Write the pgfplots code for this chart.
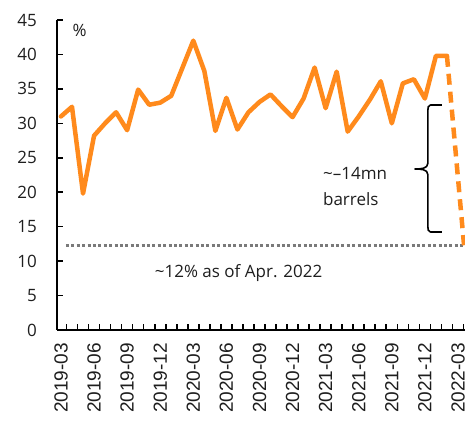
\documentclass[border=0pt]{standalone}
\usepackage{fontspec}
\setmainfont{Open Sans}
\newfontfamily\arialf{Liberation Sans}
\usepackage{pgfplots}
\pgfplotsset{compat=1.18}
\definecolor{ora}{HTML}{FF8A1C}
\definecolor{dotg}{HTML}{7A7A7A}
\definecolor{txt}{HTML}{1E1E1E}
\begin{document}
\begin{tikzpicture}
\useasboundingbox (-57pt,-92pt) rectangle (408pt,330pt);
\begin{axis}[
  at={(0pt,0pt)}, anchor=south west,
  scale only axis, width=412pt, height=310pt,
  xmin=-0.36, xmax=37, ymin=0, ymax=45,
  clip=false,
  axis x line*=bottom, axis y line*=left,
  axis line style={line width=2.5pt, -, black},
  tick align=inside,
  ytick={0,5,...,45},
  major tick length=5.5pt,
  tick style={black, line width=1.6pt},
  xtick={0.5,1.5,...,36.5},
  xticklabels={},
  extra x ticks={0,3,...,36},
  extra x tick labels={2019-03,2019-06,2019-09,2019-12,2020-03,2020-06,2020-09,2020-12,2021-03,2021-06,2021-09,2021-12,2022-03},
  extra x tick style={tick style={draw=none}},
  /pgf/number format/assume math mode=true,
  yticklabel style={anchor=east, inner sep=0pt, xshift=-20pt, text=txt, font=\fontsize{17}{20}\selectfont},
  xticklabel style={yshift=-13pt, rotate=90, anchor=east, inner sep=0pt, text=txt, font=\arialf\fontsize{19}{21}\selectfont},
]
\addplot[dotg, line width=3pt, dash pattern=on 3pt off 2.4pt] coordinates {(0.45,12.3) (37,12.3)};
\addplot[ora, line width=4.5pt, line join=round, line cap=round] coordinates {
(0,31.0) (1,32.4) (2,19.8) (3,28.2) (4,30.0) (5,31.6) (6,29.0) (7,34.9) (8,32.7) (9,33.0)
(10,34.0) (11,38.0) (12,42.0) (13,37.6) (14,28.9) (15,33.7) (16,29.1) (17,31.6) (18,33.1) (19,34.2)
(20,32.5) (21,30.9) (22,33.6) (23,38.1) (24,32.2) (25,37.5) (26,28.8) (27,31.0) (28,33.4) (29,36.1)
(30,30.0) (31,35.8) (32,36.4) (33,33.6) (34,39.8) (35,39.8)};
\addplot[ora, line width=4.5pt, dash pattern=on 11pt off 7pt] coordinates {(35,39.8) (36.55,12.3)};
\draw[line width=1.6pt, black, line join=round]
  (axis cs:34.54,32.66) -- (axis cs:33.5,32.66) to[out=180,in=90] (axis cs:33.27,31.9)
  -- (axis cs:33.27,24.2) to[out=-90,in=0] (axis cs:32.09,23.37)
  to[out=0,in=90] (axis cs:33.27,22.55)
  -- (axis cs:33.27,15.0) to[out=-90,in=180] (axis cs:33.5,14.23) -- (axis cs:34.54,14.23);
\node[anchor=west, inner sep=0pt, text=txt, font=\fontsize{17}{20}\selectfont] at (axis cs:8.5,8.3) {\textasciitilde12\% as of Apr. 2022};
\node[anchor=west, inner sep=0pt, align=left, text=txt, font=\fontsize{17}{26}\selectfont] at (axis cs:23.75,20.9) {\textasciitilde–14mn\\barrels};
\node[inner sep=0pt, text=txt, font=\fontsize{17}{20}\selectfont] at (axis cs:1.7,43.5) {\%};
\end{axis}
\end{tikzpicture}
\end{document}
